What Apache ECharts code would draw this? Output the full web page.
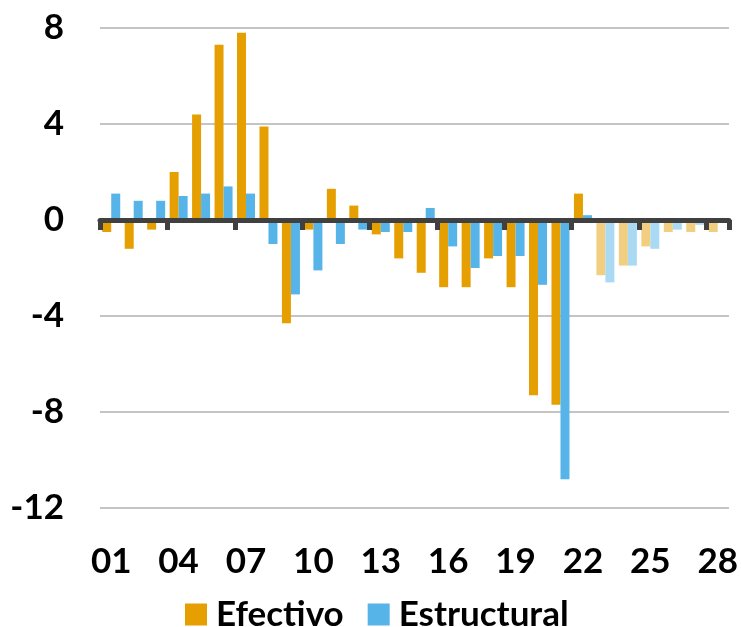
<!DOCTYPE html>
<html>
<head>
<meta charset="utf-8">
<script src="https://cdn.jsdelivr.net/npm/echarts@6/dist/echarts.min.js"></script>
<style>
html,body{margin:0;padding:0;background:#fff;}
#chart{width:741px;height:627px;}
</style>
</head>
<body>
<div id="chart"></div>
<script>
var categories = ['01','02','03','04','05','06','07','08','09','10','11','12','13','14','15','16','17','18','19','20','21','22','23','24','25','26','27','28'];
var efectivo = [-0.5,-1.2,-0.4,2.0,4.4,7.3,7.8,3.9,-4.3,-0.4,1.3,0.6,-0.6,-1.6,-2.2,-2.8,-2.8,-1.6,-2.8,-7.3,-7.7,1.1,-2.3,-1.9,-1.1,-0.5,-0.5,-0.5];
var estructural = [1.1,0.8,0.8,1.0,1.1,1.4,1.1,-1.0,-3.1,-2.1,-1.0,-0.4,-0.5,-0.5,0.5,-1.1,-2.0,-1.5,-1.5,-2.7,-10.8,0.2,-2.6,-1.9,-1.2,-0.4,-0.2,-0.1];
var yTicks = [-12,-8,-4,0,4,8];
var projectionStart = 22; // index of first lighter (projected) bar

var colOrange = '#E69F00', colOrangeLight = '#F2CF80';
var colBlue = '#56B4E9', colBlueLight = '#AAD9F4';

function build(values, dark, light) {
  return values.map(function (v, i) {
    return { value: v, itemStyle: { color: i >= projectionStart ? light : dark } };
  });
}

var FONT = 'Lato';
var chart = echarts.init(document.getElementById('chart'), null, {renderer:'canvas'});
chart.setOption({
  animation: false,
  backgroundColor: '#fff',
  grid: { left: 100, right: 11, top: 28, bottom: 119, containLabel: false },
  legend: {
    left: 180, top: 592,
    itemWidth: 22, itemHeight: 22, itemGap: 24,
    icon: 'rect',
    textStyle: { fontFamily: FONT, fontWeight: 'bold', fontSize: 35, color: '#000', padding: [0,0,0,4] },
    data: [{name:'Efectivo', itemStyle:{color:colOrange}}, {name:'Estructural', itemStyle:{color:colBlue}}]
  },
  xAxis: [
    {
      type: 'category', data: categories, position: 'bottom',
      axisLine: { show: false, onZero: false },
      axisTick: { show: false },
      axisLabel: { interval: 2, margin: 36, fontFamily: FONT, fontWeight: 'bold', fontSize: 35, color: '#000' }
    },
    {
      type: 'category', data: categories, position: 'bottom', z: 10,
      axisLine: { show: true, onZero: true, lineStyle: { color: '#404040', width: 5 } },
      axisTick: { show: true, interval: 2, length: 10, inside: false, lineStyle: { color: '#404040', width: 5 } },
      axisLabel: { show: false }
    }
  ],
  yAxis: {
    type: 'value', min: -12, max: 8, interval: 4,
    axisLine: { show: false }, axisTick: { show: false },
    splitLine: { lineStyle: { color: '#C4C4C4', width: 2 } },
    axisLabel: { margin: 36, fontFamily: FONT, fontWeight: 'bold', fontSize: 35, color: '#000',
      formatter: function (v) { return yTicks.indexOf(v) >= 0 ? String(v) : ''; } }
  },
  series: [
    { name: 'Efectivo', type: 'bar', xAxisIndex: 0, barWidth: 9, barGap: '0%', color: colOrange,
      data: build(efectivo, colOrange, colOrangeLight) },
    { name: 'Estructural', type: 'bar', xAxisIndex: 0, barWidth: 9, barGap: '0%', color: colBlue,
      data: build(estructural, colBlue, colBlueLight) }
  ]
});
</script>
</body>
</html>
